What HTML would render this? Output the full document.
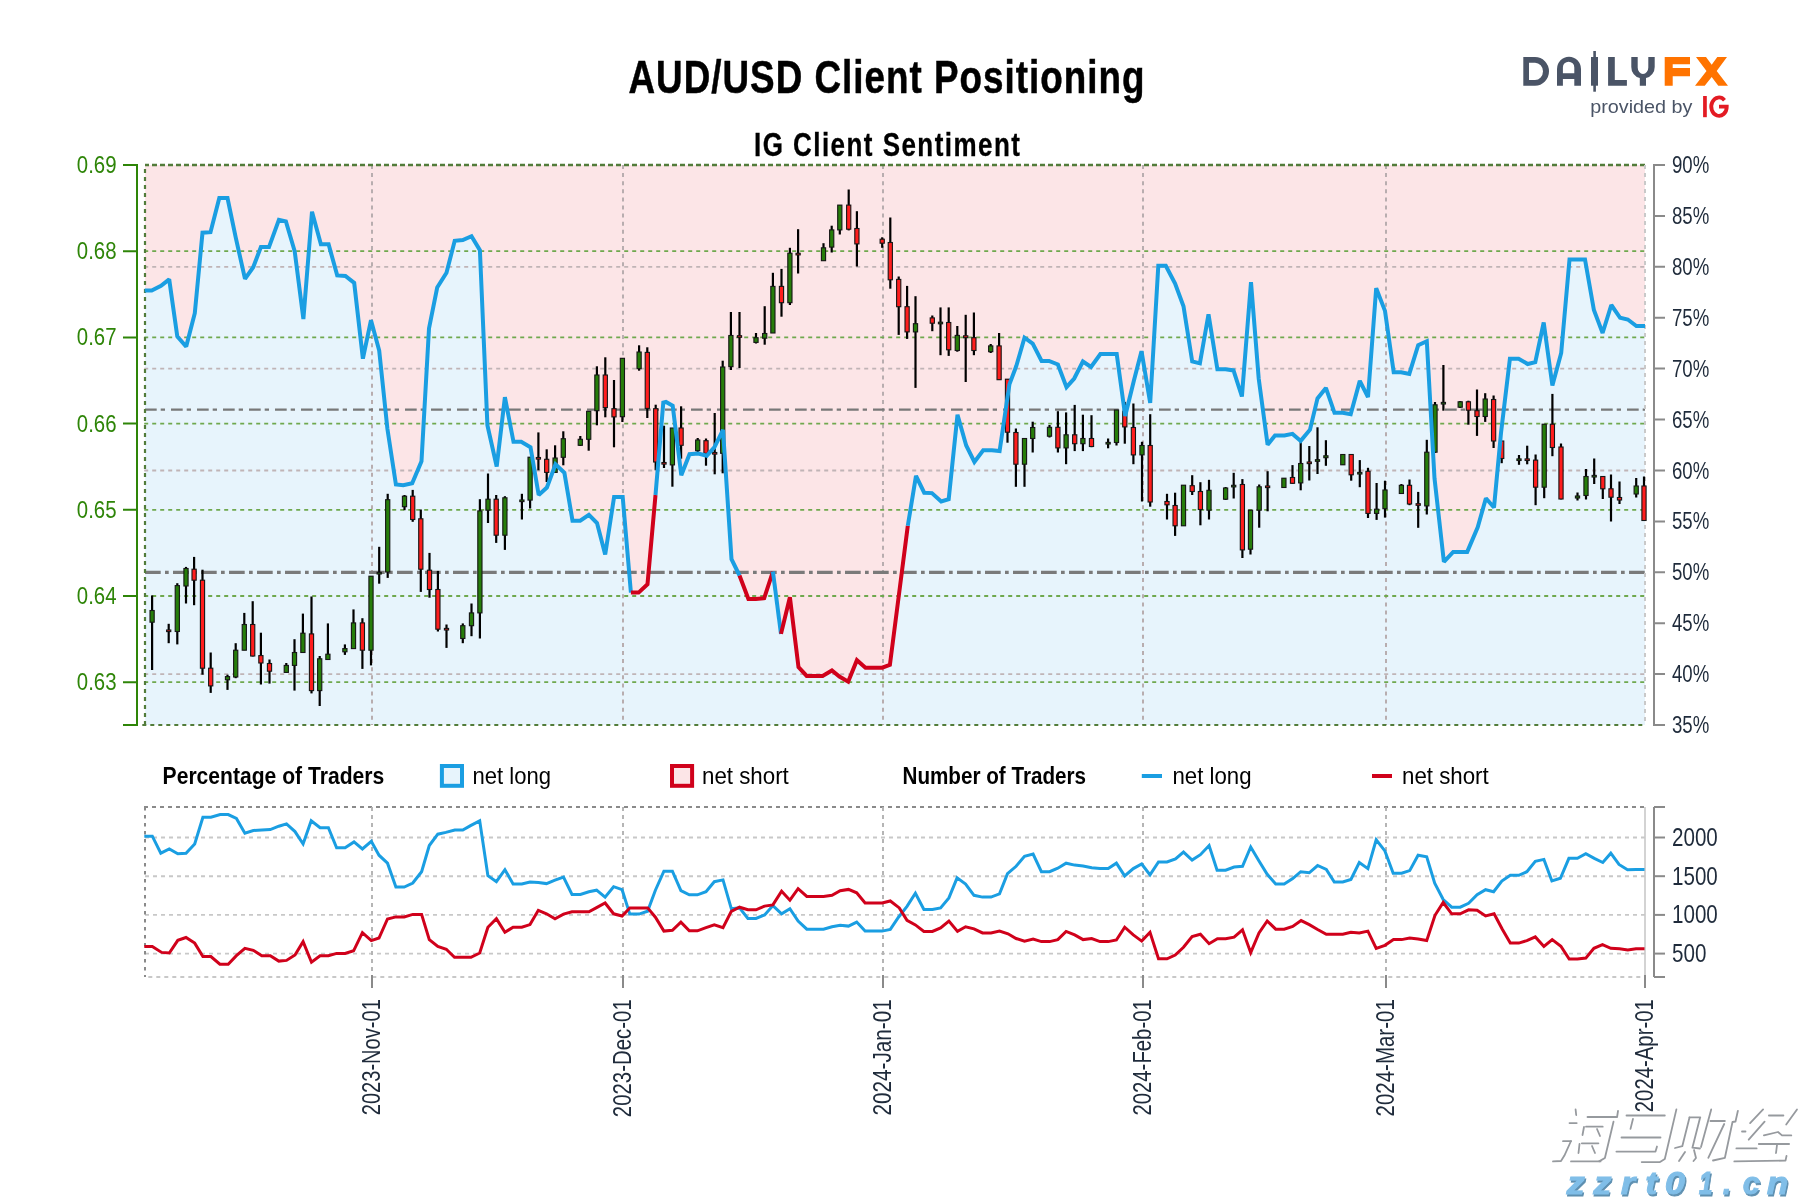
<!DOCTYPE html>
<html><head><meta charset="utf-8"><title>AUD/USD Client Positioning</title>
<style>html,body{margin:0;padding:0;background:#fff;} svg{display:block;will-change:transform;}</style></head>
<body>
<svg width="1800" height="1200" viewBox="0 0 1800 1200">
<rect x="0" y="0" width="1800" height="1200" fill="#ffffff"/>
<text transform="scale(0.8,1)" x="785.62" y="93.3" font-family='"Liberation Sans", sans-serif' font-weight="bold" font-size="46" fill="#000" stroke="#000" stroke-width="0.5" textLength="645.00" lengthAdjust="spacing">AUD/USD Client Positioning</text>
<text transform="scale(0.8,1)" x="942.50" y="155.8" font-family='"Liberation Sans", sans-serif' font-weight="bold" font-size="32.5" fill="#000" stroke="#000" stroke-width="0.3" textLength="332.50" lengthAdjust="spacing">IG Client Sentiment</text>
<rect x="145" y="165" width="1500" height="560" fill="#fce5e7"/>
<polygon points="145.0,725.0 145.0,290.6 151.7,290.6 161.0,285.9 169.2,279.4 177.3,336.5 186.2,346.6 194.8,313.2 202.5,232.7 210.5,232.2 219.3,198.1 227.5,198.1 235.7,237.3 245.0,278.9 253.2,267.2 260.9,247.1 269.0,247.1 278.9,219.8 285.9,221.5 294.7,251.3 303.4,319.0 312.0,211.7 320.9,244.3 328.6,244.3 337.2,275.4 345.4,275.9 354.2,282.9 362.9,358.7 371.0,320.2 379.2,350.5 387.4,428.7 395.9,484.5 403.3,485.2 412.2,483.3 421.5,461.2 429.0,328.4 437.2,287.5 446.5,272.8 454.7,240.8 462.8,240.1 471.5,236.2 479.9,250.2 487.4,425.2 496.7,466.5 504.9,397.2 513.5,441.8 521.2,441.8 530.5,447.2 538.7,495.0 546.9,487.5 555.5,464.2 564.4,472.8 572.5,520.7 580.2,520.7 588.9,514.8 597.0,523.0 605.2,554.5 614.1,496.9 622.7,496.9 630.9,592.6 638.6,592.6 647.5,584.2 655.5,495.0 663.3,402.7 666.0,402.0 672.7,405.7 681.3,475.3 689.5,454.2 698.2,453.5 706.8,455.8 714.5,447.2 720.8,434.3 723.0,430.0 731.5,559.2 739.5,575.5 748.4,598.9 755.8,598.9 764.2,598.2 772.9,571.6 781.0,633.9 789.9,597.2 798.5,667.2 806.7,675.9 814.9,675.9 822.6,675.9 831.9,670.5 839.4,676.6 848.2,681.7 856.9,660.2 865.5,667.7 882.2,667.7 889.9,664.9 907.8,525.8 916.0,475.9 924.2,492.7 931.9,493.1 941.2,501.5 948.7,499.2 957.5,414.7 966.2,445.5 974.4,461.9 983.2,450.2 991.9,450.2 999.6,451.1 1009.4,384.4 1016.4,365.7 1024.5,337.7 1032.7,343.5 1041.6,361.0 1049.0,361.0 1057.9,364.5 1066.5,387.2 1074.2,378.5 1082.9,361.5 1091.0,366.9 1100.4,354.0 1116.7,354.0 1125.2,415.9 1133.8,380.9 1141.5,351.2 1150.2,403.0 1158.3,265.8 1165.8,265.8 1175.1,283.6 1183.5,306.2 1192.2,361.5 1199.9,363.4 1208.5,314.4 1217.4,369.2 1225.6,369.2 1233.5,370.4 1241.9,396.5 1251.0,282.2 1258.7,378.5 1267.6,444.8 1275.0,435.5 1284.4,435.5 1292.5,433.9 1300.7,440.9 1310.0,429.7 1317.5,398.4 1325.9,387.9 1334.5,412.8 1342.7,412.8 1350.7,414.2 1359.8,380.9 1368.0,397.2 1376.2,288.2 1385.0,310.9 1393.7,372.2 1401.1,372.2 1409.3,373.9 1418.2,345.2 1426.8,341.2 1434.5,478.3 1443.9,561.9 1453.2,551.9 1467.2,551.9 1477.7,527.4 1485.9,498.2 1494.0,507.5 1501.0,433.0 1509.9,358.7 1518.6,358.7 1527.7,364.0 1535.3,362.2 1543.7,322.5 1552.4,385.5 1561.2,352.9 1569.5,259.5 1585.0,259.5 1593.9,310.0 1602.6,333.0 1611.3,305.0 1620.1,317.8 1627.8,319.5 1636.4,326.0 1645.0,326.0 1645.0,725.0" fill="#e7f4fc"/>
<line x1="144.2" y1="266.8" x2="1645" y2="266.8" stroke="#c0b4b6" stroke-width="1.8" stroke-dasharray="4,4"/>
<line x1="144.2" y1="368.6" x2="1645" y2="368.6" stroke="#c0b4b6" stroke-width="1.8" stroke-dasharray="4,4"/>
<line x1="144.2" y1="470.5" x2="1645" y2="470.5" stroke="#c0b4b6" stroke-width="1.8" stroke-dasharray="4,4"/>
<line x1="144.2" y1="674.1" x2="1645" y2="674.1" stroke="#c0b4b6" stroke-width="1.8" stroke-dasharray="4,4"/>
<line x1="372" y1="165" x2="372" y2="725" stroke="#b8adaf" stroke-width="2" stroke-dasharray="4,4.1"/>
<line x1="623" y1="165" x2="623" y2="725" stroke="#b8adaf" stroke-width="2" stroke-dasharray="4,4.1"/>
<line x1="883" y1="165" x2="883" y2="725" stroke="#b8adaf" stroke-width="2" stroke-dasharray="4,4.1"/>
<line x1="1143" y1="165" x2="1143" y2="725" stroke="#b8adaf" stroke-width="2" stroke-dasharray="4,4.1"/>
<line x1="1386" y1="165" x2="1386" y2="725" stroke="#b8adaf" stroke-width="2" stroke-dasharray="4,4.1"/>
<line x1="144.2" y1="251.2" x2="1645" y2="251.2" stroke="#6fa84e" stroke-width="1.8" stroke-dasharray="4,4"/>
<line x1="144.2" y1="337.4" x2="1645" y2="337.4" stroke="#6fa84e" stroke-width="1.8" stroke-dasharray="4,4"/>
<line x1="144.2" y1="423.6" x2="1645" y2="423.6" stroke="#6fa84e" stroke-width="1.8" stroke-dasharray="4,4"/>
<line x1="144.2" y1="509.8" x2="1645" y2="509.8" stroke="#6fa84e" stroke-width="1.8" stroke-dasharray="4,4"/>
<line x1="144.2" y1="596.0" x2="1645" y2="596.0" stroke="#6fa84e" stroke-width="1.8" stroke-dasharray="4,4"/>
<line x1="144.2" y1="682.2" x2="1645" y2="682.2" stroke="#6fa84e" stroke-width="1.8" stroke-dasharray="4,4"/>
<line x1="142.3" y1="725" x2="1645" y2="725" stroke="#527c3a" stroke-width="2.2" stroke-dasharray="4,4"/>
<line x1="145" y1="409.7" x2="1645" y2="409.7" stroke="#787878" stroke-width="2.2" stroke-dasharray="11.7,4,4.3,6"/>
<line x1="145" y1="572.3" x2="1645" y2="572.3" stroke="#7a7a7a" stroke-width="3.3" stroke-dasharray="15.7,4.3,3.7,4.3"/>
<line x1="145" y1="165" x2="1645" y2="165" stroke="#527c3a" stroke-width="2.3" stroke-dasharray="5,3" stroke-dashoffset="1"/>
<line x1="145" y1="725" x2="145" y2="165" stroke="#527c3a" stroke-width="2.2" stroke-dasharray="4,4"/>
<line x1="1645" y1="165" x2="1645" y2="725" stroke="#c9c9c9" stroke-width="2" stroke-dasharray="4,4"/>
<line x1="152.1" y1="595.4" x2="152.1" y2="670.0" stroke="#000" stroke-width="2.2"/>
<rect x="150.00" y="610.5" width="4.2" height="11.7" fill="#267d0a" stroke="#161616" stroke-width="1.1"/>
<line x1="168.7" y1="623.8" x2="168.7" y2="643.2" stroke="#000" stroke-width="2.2"/>
<rect x="166.60" y="630.0" width="4.2" height="1.6" fill="#ff1d1d" stroke="#161616" stroke-width="1.1"/>
<line x1="177.3" y1="583.2" x2="177.3" y2="644.4" stroke="#000" stroke-width="2.2"/>
<rect x="175.20" y="585.6" width="4.2" height="45.9" fill="#267d0a" stroke="#161616" stroke-width="1.1"/>
<line x1="186.0" y1="566.9" x2="186.0" y2="603.5" stroke="#000" stroke-width="2.2"/>
<rect x="183.90" y="568.5" width="4.2" height="17.5" fill="#267d0a" stroke="#161616" stroke-width="1.1"/>
<line x1="194.1" y1="556.9" x2="194.1" y2="605.2" stroke="#000" stroke-width="2.2"/>
<rect x="192.00" y="569.2" width="4.2" height="11.0" fill="#ff1d1d" stroke="#161616" stroke-width="1.1"/>
<line x1="202.5" y1="569.7" x2="202.5" y2="674.7" stroke="#000" stroke-width="2.2"/>
<rect x="200.40" y="580.2" width="4.2" height="88.0" fill="#ff1d1d" stroke="#161616" stroke-width="1.1"/>
<line x1="210.7" y1="652.5" x2="210.7" y2="692.9" stroke="#000" stroke-width="2.2"/>
<rect x="208.60" y="668.2" width="4.2" height="17.7" fill="#ff1d1d" stroke="#161616" stroke-width="1.1"/>
<line x1="227.5" y1="674.7" x2="227.5" y2="689.9" stroke="#000" stroke-width="2.2"/>
<rect x="225.40" y="676.6" width="4.2" height="3.2" fill="#267d0a" stroke="#161616" stroke-width="1.1"/>
<line x1="235.7" y1="643.2" x2="235.7" y2="678.2" stroke="#000" stroke-width="2.2"/>
<rect x="233.60" y="650.2" width="4.2" height="26.8" fill="#267d0a" stroke="#161616" stroke-width="1.1"/>
<line x1="244.3" y1="612.9" x2="244.3" y2="650.2" stroke="#000" stroke-width="2.2"/>
<rect x="242.20" y="624.5" width="4.2" height="25.7" fill="#267d0a" stroke="#161616" stroke-width="1.1"/>
<line x1="252.7" y1="601.2" x2="252.7" y2="656.5" stroke="#000" stroke-width="2.2"/>
<rect x="250.60" y="624.5" width="4.2" height="31.5" fill="#ff1d1d" stroke="#161616" stroke-width="1.1"/>
<line x1="260.9" y1="632.7" x2="260.9" y2="684.5" stroke="#000" stroke-width="2.2"/>
<rect x="258.80" y="655.6" width="4.2" height="7.4" fill="#ff1d1d" stroke="#161616" stroke-width="1.1"/>
<line x1="269.5" y1="659.5" x2="269.5" y2="683.6" stroke="#000" stroke-width="2.2"/>
<rect x="267.40" y="663.5" width="4.2" height="7.7" fill="#ff1d1d" stroke="#161616" stroke-width="1.1"/>
<line x1="286.3" y1="663.0" x2="286.3" y2="673.0" stroke="#000" stroke-width="2.2"/>
<rect x="284.20" y="665.4" width="4.2" height="7.0" fill="#267d0a" stroke="#161616" stroke-width="1.1"/>
<line x1="294.5" y1="639.2" x2="294.5" y2="690.6" stroke="#000" stroke-width="2.2"/>
<rect x="292.40" y="652.5" width="4.2" height="12.9" fill="#267d0a" stroke="#161616" stroke-width="1.1"/>
<line x1="302.9" y1="613.6" x2="302.9" y2="652.5" stroke="#000" stroke-width="2.2"/>
<rect x="300.80" y="633.2" width="4.2" height="19.3" fill="#267d0a" stroke="#161616" stroke-width="1.1"/>
<line x1="311.5" y1="596.5" x2="311.5" y2="693.4" stroke="#000" stroke-width="2.2"/>
<rect x="309.40" y="633.9" width="4.2" height="56.7" fill="#ff1d1d" stroke="#161616" stroke-width="1.1"/>
<line x1="319.7" y1="656.0" x2="319.7" y2="706.0" stroke="#000" stroke-width="2.2"/>
<rect x="317.60" y="658.8" width="4.2" height="31.8" fill="#267d0a" stroke="#161616" stroke-width="1.1"/>
<line x1="327.9" y1="623.4" x2="327.9" y2="659.5" stroke="#000" stroke-width="2.2"/>
<rect x="325.80" y="654.2" width="4.2" height="5.3" fill="#267d0a" stroke="#161616" stroke-width="1.1"/>
<line x1="344.9" y1="644.4" x2="344.9" y2="654.9" stroke="#000" stroke-width="2.2"/>
<rect x="342.80" y="648.6" width="4.2" height="3.2" fill="#267d0a" stroke="#161616" stroke-width="1.1"/>
<line x1="353.5" y1="609.4" x2="353.5" y2="648.6" stroke="#000" stroke-width="2.2"/>
<rect x="351.40" y="622.9" width="4.2" height="25.7" fill="#267d0a" stroke="#161616" stroke-width="1.1"/>
<line x1="362.4" y1="618.2" x2="362.4" y2="668.9" stroke="#000" stroke-width="2.2"/>
<rect x="360.30" y="622.9" width="4.2" height="27.3" fill="#ff1d1d" stroke="#161616" stroke-width="1.1"/>
<line x1="371.0" y1="576.2" x2="371.0" y2="665.4" stroke="#000" stroke-width="2.2"/>
<rect x="368.90" y="576.2" width="4.2" height="74.0" fill="#267d0a" stroke="#161616" stroke-width="1.1"/>
<line x1="379.2" y1="546.8" x2="379.2" y2="583.7" stroke="#000" stroke-width="2.2"/>
<rect x="377.10" y="572.4" width="4.2" height="1.6" fill="#267d0a" stroke="#161616" stroke-width="1.1"/>
<line x1="387.7" y1="493.8" x2="387.7" y2="577.9" stroke="#000" stroke-width="2.2"/>
<rect x="385.60" y="499.7" width="4.2" height="72.3" fill="#267d0a" stroke="#161616" stroke-width="1.1"/>
<line x1="404.5" y1="495.0" x2="404.5" y2="510.2" stroke="#000" stroke-width="2.2"/>
<rect x="402.40" y="496.2" width="4.2" height="10.5" fill="#267d0a" stroke="#161616" stroke-width="1.1"/>
<line x1="412.7" y1="489.9" x2="412.7" y2="521.8" stroke="#000" stroke-width="2.2"/>
<rect x="410.60" y="496.2" width="4.2" height="23.3" fill="#ff1d1d" stroke="#161616" stroke-width="1.1"/>
<line x1="420.8" y1="509.5" x2="420.8" y2="591.9" stroke="#000" stroke-width="2.2"/>
<rect x="418.70" y="518.8" width="4.2" height="50.4" fill="#ff1d1d" stroke="#161616" stroke-width="1.1"/>
<line x1="429.5" y1="552.9" x2="429.5" y2="597.7" stroke="#000" stroke-width="2.2"/>
<rect x="427.40" y="570.2" width="4.2" height="19.3" fill="#ff1d1d" stroke="#161616" stroke-width="1.1"/>
<line x1="437.9" y1="570.9" x2="437.9" y2="631.5" stroke="#000" stroke-width="2.2"/>
<rect x="435.80" y="589.5" width="4.2" height="39.7" fill="#ff1d1d" stroke="#161616" stroke-width="1.1"/>
<line x1="446.5" y1="624.5" x2="446.5" y2="647.9" stroke="#000" stroke-width="2.2"/>
<rect x="444.40" y="628.4" width="4.2" height="1.6" fill="#ff1d1d" stroke="#161616" stroke-width="1.1"/>
<line x1="462.8" y1="623.4" x2="462.8" y2="643.2" stroke="#000" stroke-width="2.2"/>
<rect x="460.70" y="625.7" width="4.2" height="12.8" fill="#267d0a" stroke="#161616" stroke-width="1.1"/>
<line x1="471.5" y1="603.5" x2="471.5" y2="636.2" stroke="#000" stroke-width="2.2"/>
<rect x="469.40" y="612.9" width="4.2" height="12.8" fill="#267d0a" stroke="#161616" stroke-width="1.1"/>
<line x1="479.9" y1="499.2" x2="479.9" y2="638.5" stroke="#000" stroke-width="2.2"/>
<rect x="477.80" y="510.9" width="4.2" height="102.0" fill="#267d0a" stroke="#161616" stroke-width="1.1"/>
<line x1="488.0" y1="473.5" x2="488.0" y2="523.0" stroke="#000" stroke-width="2.2"/>
<rect x="485.90" y="499.2" width="4.2" height="11.0" fill="#267d0a" stroke="#161616" stroke-width="1.1"/>
<line x1="496.2" y1="495.0" x2="496.2" y2="542.9" stroke="#000" stroke-width="2.2"/>
<rect x="494.10" y="499.2" width="4.2" height="36.0" fill="#ff1d1d" stroke="#161616" stroke-width="1.1"/>
<line x1="504.9" y1="496.2" x2="504.9" y2="549.9" stroke="#000" stroke-width="2.2"/>
<rect x="502.80" y="497.8" width="4.2" height="37.4" fill="#267d0a" stroke="#161616" stroke-width="1.1"/>
<line x1="521.9" y1="493.8" x2="521.9" y2="519.5" stroke="#000" stroke-width="2.2"/>
<rect x="519.80" y="500.0" width="4.2" height="1.6" fill="#267d0a" stroke="#161616" stroke-width="1.1"/>
<line x1="530.1" y1="457.0" x2="530.1" y2="508.5" stroke="#000" stroke-width="2.2"/>
<rect x="528.00" y="457.2" width="4.2" height="42.9" fill="#267d0a" stroke="#161616" stroke-width="1.1"/>
<line x1="538.4" y1="432.4" x2="538.4" y2="470.3" stroke="#000" stroke-width="2.2"/>
<rect x="536.30" y="457.5" width="4.2" height="1.6" fill="#ff1d1d" stroke="#161616" stroke-width="1.1"/>
<line x1="546.7" y1="449.3" x2="546.7" y2="482.0" stroke="#000" stroke-width="2.2"/>
<rect x="544.60" y="459.3" width="4.2" height="13.1" fill="#ff1d1d" stroke="#161616" stroke-width="1.1"/>
<line x1="555.1" y1="445.3" x2="555.1" y2="472.4" stroke="#000" stroke-width="2.2"/>
<rect x="553.00" y="458.0" width="4.2" height="14.4" fill="#267d0a" stroke="#161616" stroke-width="1.1"/>
<line x1="563.3" y1="431.3" x2="563.3" y2="465.3" stroke="#000" stroke-width="2.2"/>
<rect x="561.20" y="438.7" width="4.2" height="18.6" fill="#267d0a" stroke="#161616" stroke-width="1.1"/>
<line x1="580.3" y1="436.0" x2="580.3" y2="446.0" stroke="#000" stroke-width="2.2"/>
<rect x="578.20" y="439.3" width="4.2" height="6.0" fill="#267d0a" stroke="#161616" stroke-width="1.1"/>
<line x1="588.7" y1="411.0" x2="588.7" y2="450.7" stroke="#000" stroke-width="2.2"/>
<rect x="586.60" y="411.3" width="4.2" height="28.0" fill="#267d0a" stroke="#161616" stroke-width="1.1"/>
<line x1="596.9" y1="366.3" x2="596.9" y2="425.3" stroke="#000" stroke-width="2.2"/>
<rect x="594.80" y="375.0" width="4.2" height="35.7" fill="#267d0a" stroke="#161616" stroke-width="1.1"/>
<line x1="605.3" y1="357.3" x2="605.3" y2="417.3" stroke="#000" stroke-width="2.2"/>
<rect x="603.20" y="375.0" width="4.2" height="32.6" fill="#ff1d1d" stroke="#161616" stroke-width="1.1"/>
<line x1="614.0" y1="380.0" x2="614.0" y2="447.3" stroke="#000" stroke-width="2.2"/>
<rect x="611.90" y="408.7" width="4.2" height="8.2" fill="#ff1d1d" stroke="#161616" stroke-width="1.1"/>
<line x1="622.4" y1="358.0" x2="622.4" y2="422.0" stroke="#000" stroke-width="2.2"/>
<rect x="620.30" y="358.3" width="4.2" height="58.4" fill="#267d0a" stroke="#161616" stroke-width="1.1"/>
<line x1="639.1" y1="345.3" x2="639.1" y2="370.7" stroke="#000" stroke-width="2.2"/>
<rect x="637.00" y="352.0" width="4.2" height="16.7" fill="#267d0a" stroke="#161616" stroke-width="1.1"/>
<line x1="647.3" y1="347.3" x2="647.3" y2="418.0" stroke="#000" stroke-width="2.2"/>
<rect x="645.20" y="352.4" width="4.2" height="56.0" fill="#ff1d1d" stroke="#161616" stroke-width="1.1"/>
<line x1="655.7" y1="404.7" x2="655.7" y2="470.3" stroke="#000" stroke-width="2.2"/>
<rect x="653.60" y="408.7" width="4.2" height="53.3" fill="#ff1d1d" stroke="#161616" stroke-width="1.1"/>
<line x1="664.0" y1="425.7" x2="664.0" y2="468.0" stroke="#000" stroke-width="2.2"/>
<rect x="661.90" y="462.5" width="4.2" height="1.6" fill="#ff1d1d" stroke="#161616" stroke-width="1.1"/>
<line x1="672.4" y1="428.0" x2="672.4" y2="486.7" stroke="#000" stroke-width="2.2"/>
<rect x="670.30" y="428.0" width="4.2" height="36.9" fill="#267d0a" stroke="#161616" stroke-width="1.1"/>
<line x1="681.1" y1="406.3" x2="681.1" y2="458.7" stroke="#000" stroke-width="2.2"/>
<rect x="679.00" y="428.0" width="4.2" height="17.3" fill="#ff1d1d" stroke="#161616" stroke-width="1.1"/>
<line x1="697.7" y1="438.0" x2="697.7" y2="452.0" stroke="#000" stroke-width="2.2"/>
<rect x="695.60" y="440.0" width="4.2" height="10.7" fill="#267d0a" stroke="#161616" stroke-width="1.1"/>
<line x1="706.0" y1="438.5" x2="706.0" y2="465.7" stroke="#000" stroke-width="2.2"/>
<rect x="703.90" y="440.7" width="4.2" height="12.6" fill="#ff1d1d" stroke="#161616" stroke-width="1.1"/>
<line x1="714.7" y1="413.0" x2="714.7" y2="474.3" stroke="#000" stroke-width="2.2"/>
<rect x="712.60" y="452.5" width="4.2" height="1.6" fill="#ff1d1d" stroke="#161616" stroke-width="1.1"/>
<line x1="722.7" y1="360.7" x2="722.7" y2="473.3" stroke="#000" stroke-width="2.2"/>
<rect x="720.60" y="367.0" width="4.2" height="86.3" fill="#267d0a" stroke="#161616" stroke-width="1.1"/>
<line x1="730.9" y1="312.0" x2="730.9" y2="370.0" stroke="#000" stroke-width="2.2"/>
<rect x="728.80" y="335.5" width="4.2" height="31.2" fill="#267d0a" stroke="#161616" stroke-width="1.1"/>
<line x1="739.5" y1="312.0" x2="739.5" y2="368.0" stroke="#000" stroke-width="2.2"/>
<rect x="737.40" y="335.7" width="4.2" height="1.6" fill="#ff1d1d" stroke="#161616" stroke-width="1.1"/>
<line x1="756.0" y1="333.0" x2="756.0" y2="343.5" stroke="#000" stroke-width="2.2"/>
<rect x="753.90" y="337.7" width="4.2" height="4.7" fill="#267d0a" stroke="#161616" stroke-width="1.1"/>
<line x1="764.7" y1="306.2" x2="764.7" y2="344.7" stroke="#000" stroke-width="2.2"/>
<rect x="762.60" y="333.5" width="4.2" height="4.7" fill="#267d0a" stroke="#161616" stroke-width="1.1"/>
<line x1="772.9" y1="272.8" x2="772.9" y2="333.0" stroke="#000" stroke-width="2.2"/>
<rect x="770.80" y="286.4" width="4.2" height="46.6" fill="#267d0a" stroke="#161616" stroke-width="1.1"/>
<line x1="781.5" y1="268.9" x2="781.5" y2="316.7" stroke="#000" stroke-width="2.2"/>
<rect x="779.40" y="286.4" width="4.2" height="16.3" fill="#ff1d1d" stroke="#161616" stroke-width="1.1"/>
<line x1="789.9" y1="247.8" x2="789.9" y2="305.0" stroke="#000" stroke-width="2.2"/>
<rect x="787.80" y="253.2" width="4.2" height="49.5" fill="#267d0a" stroke="#161616" stroke-width="1.1"/>
<line x1="798.1" y1="229.2" x2="798.1" y2="273.5" stroke="#000" stroke-width="2.2"/>
<rect x="796.00" y="253.3" width="4.2" height="1.6" fill="#ff1d1d" stroke="#161616" stroke-width="1.1"/>
<line x1="823.5" y1="243.2" x2="823.5" y2="260.7" stroke="#000" stroke-width="2.2"/>
<rect x="821.40" y="247.8" width="4.2" height="12.9" fill="#267d0a" stroke="#161616" stroke-width="1.1"/>
<line x1="831.7" y1="225.7" x2="831.7" y2="252.5" stroke="#000" stroke-width="2.2"/>
<rect x="829.60" y="229.9" width="4.2" height="17.2" fill="#267d0a" stroke="#161616" stroke-width="1.1"/>
<line x1="839.8" y1="205.1" x2="839.8" y2="234.5" stroke="#000" stroke-width="2.2"/>
<rect x="837.70" y="205.1" width="4.2" height="24.8" fill="#267d0a" stroke="#161616" stroke-width="1.1"/>
<line x1="848.7" y1="189.5" x2="848.7" y2="230.4" stroke="#000" stroke-width="2.2"/>
<rect x="846.60" y="205.1" width="4.2" height="24.1" fill="#ff1d1d" stroke="#161616" stroke-width="1.1"/>
<line x1="856.9" y1="211.2" x2="856.9" y2="266.5" stroke="#000" stroke-width="2.2"/>
<rect x="854.80" y="228.5" width="4.2" height="15.4" fill="#ff1d1d" stroke="#161616" stroke-width="1.1"/>
<line x1="882.2" y1="237.3" x2="882.2" y2="247.8" stroke="#000" stroke-width="2.2"/>
<rect x="880.10" y="239.2" width="4.2" height="4.0" fill="#ff1d1d" stroke="#161616" stroke-width="1.1"/>
<line x1="890.3" y1="217.5" x2="890.3" y2="288.7" stroke="#000" stroke-width="2.2"/>
<rect x="888.20" y="242.5" width="4.2" height="37.3" fill="#ff1d1d" stroke="#161616" stroke-width="1.1"/>
<line x1="898.7" y1="276.5" x2="898.7" y2="334.9" stroke="#000" stroke-width="2.2"/>
<rect x="896.60" y="279.4" width="4.2" height="27.3" fill="#ff1d1d" stroke="#161616" stroke-width="1.1"/>
<line x1="907.1" y1="285.9" x2="907.1" y2="338.9" stroke="#000" stroke-width="2.2"/>
<rect x="905.00" y="306.7" width="4.2" height="25.2" fill="#ff1d1d" stroke="#161616" stroke-width="1.1"/>
<line x1="915.5" y1="296.2" x2="915.5" y2="387.9" stroke="#000" stroke-width="2.2"/>
<rect x="913.40" y="323.7" width="4.2" height="8.2" fill="#267d0a" stroke="#161616" stroke-width="1.1"/>
<line x1="932.3" y1="315.5" x2="932.3" y2="331.2" stroke="#000" stroke-width="2.2"/>
<rect x="930.20" y="317.9" width="4.2" height="5.3" fill="#ff1d1d" stroke="#161616" stroke-width="1.1"/>
<line x1="940.5" y1="307.4" x2="940.5" y2="355.2" stroke="#000" stroke-width="2.2"/>
<rect x="938.40" y="322.2" width="4.2" height="1.6" fill="#267d0a" stroke="#161616" stroke-width="1.1"/>
<line x1="948.7" y1="307.4" x2="948.7" y2="355.9" stroke="#000" stroke-width="2.2"/>
<rect x="946.60" y="322.5" width="4.2" height="27.3" fill="#ff1d1d" stroke="#161616" stroke-width="1.1"/>
<line x1="957.3" y1="326.0" x2="957.3" y2="351.7" stroke="#000" stroke-width="2.2"/>
<rect x="955.20" y="335.4" width="4.2" height="15.1" fill="#267d0a" stroke="#161616" stroke-width="1.1"/>
<line x1="965.7" y1="314.8" x2="965.7" y2="382.0" stroke="#000" stroke-width="2.2"/>
<rect x="963.60" y="335.8" width="4.2" height="1.9" fill="#ff1d1d" stroke="#161616" stroke-width="1.1"/>
<line x1="973.9" y1="312.5" x2="973.9" y2="355.2" stroke="#000" stroke-width="2.2"/>
<rect x="971.80" y="337.7" width="4.2" height="12.8" fill="#ff1d1d" stroke="#161616" stroke-width="1.1"/>
<line x1="990.7" y1="344.0" x2="990.7" y2="353.0" stroke="#000" stroke-width="2.2"/>
<rect x="988.60" y="345.9" width="4.2" height="5.8" fill="#267d0a" stroke="#161616" stroke-width="1.1"/>
<line x1="999.1" y1="333.0" x2="999.1" y2="379.7" stroke="#000" stroke-width="2.2"/>
<rect x="997.00" y="345.9" width="4.2" height="33.8" fill="#ff1d1d" stroke="#161616" stroke-width="1.1"/>
<line x1="1007.5" y1="379.0" x2="1007.5" y2="442.7" stroke="#000" stroke-width="2.2"/>
<rect x="1005.40" y="379.2" width="4.2" height="53.0" fill="#ff1d1d" stroke="#161616" stroke-width="1.1"/>
<line x1="1015.9" y1="428.5" x2="1015.9" y2="486.8" stroke="#000" stroke-width="2.2"/>
<rect x="1013.80" y="432.5" width="4.2" height="31.7" fill="#ff1d1d" stroke="#161616" stroke-width="1.1"/>
<line x1="1024.5" y1="438.0" x2="1024.5" y2="486.8" stroke="#000" stroke-width="2.2"/>
<rect x="1022.40" y="438.5" width="4.2" height="25.7" fill="#267d0a" stroke="#161616" stroke-width="1.1"/>
<line x1="1032.7" y1="421.7" x2="1032.7" y2="452.5" stroke="#000" stroke-width="2.2"/>
<rect x="1030.60" y="427.5" width="4.2" height="11.0" fill="#267d0a" stroke="#161616" stroke-width="1.1"/>
<line x1="1049.5" y1="425.0" x2="1049.5" y2="437.5" stroke="#000" stroke-width="2.2"/>
<rect x="1047.40" y="427.3" width="4.2" height="8.9" fill="#267d0a" stroke="#161616" stroke-width="1.1"/>
<line x1="1057.9" y1="411.2" x2="1057.9" y2="452.5" stroke="#000" stroke-width="2.2"/>
<rect x="1055.80" y="427.3" width="4.2" height="20.6" fill="#ff1d1d" stroke="#161616" stroke-width="1.1"/>
<line x1="1066.1" y1="412.4" x2="1066.1" y2="464.2" stroke="#000" stroke-width="2.2"/>
<rect x="1064.00" y="434.8" width="4.2" height="13.1" fill="#267d0a" stroke="#161616" stroke-width="1.1"/>
<line x1="1074.7" y1="404.9" x2="1074.7" y2="451.1" stroke="#000" stroke-width="2.2"/>
<rect x="1072.60" y="434.8" width="4.2" height="8.9" fill="#ff1d1d" stroke="#161616" stroke-width="1.1"/>
<line x1="1082.9" y1="414.7" x2="1082.9" y2="451.1" stroke="#000" stroke-width="2.2"/>
<rect x="1080.80" y="438.5" width="4.2" height="5.2" fill="#267d0a" stroke="#161616" stroke-width="1.1"/>
<line x1="1091.5" y1="415.2" x2="1091.5" y2="447.2" stroke="#000" stroke-width="2.2"/>
<rect x="1089.40" y="438.5" width="4.2" height="8.0" fill="#ff1d1d" stroke="#161616" stroke-width="1.1"/>
<line x1="1108.1" y1="438.5" x2="1108.1" y2="448.3" stroke="#000" stroke-width="2.2"/>
<rect x="1106.00" y="442.4" width="4.2" height="1.6" fill="#267d0a" stroke="#161616" stroke-width="1.1"/>
<line x1="1116.5" y1="410.0" x2="1116.5" y2="445.5" stroke="#000" stroke-width="2.2"/>
<rect x="1114.40" y="410.0" width="4.2" height="32.5" fill="#267d0a" stroke="#161616" stroke-width="1.1"/>
<line x1="1124.8" y1="401.9" x2="1124.8" y2="443.7" stroke="#000" stroke-width="2.2"/>
<rect x="1122.70" y="411.2" width="4.2" height="15.7" fill="#ff1d1d" stroke="#161616" stroke-width="1.1"/>
<line x1="1133.4" y1="403.5" x2="1133.4" y2="464.2" stroke="#000" stroke-width="2.2"/>
<rect x="1131.30" y="427.5" width="4.2" height="27.4" fill="#ff1d1d" stroke="#161616" stroke-width="1.1"/>
<line x1="1142.0" y1="441.8" x2="1142.0" y2="501.5" stroke="#000" stroke-width="2.2"/>
<rect x="1139.90" y="445.5" width="4.2" height="9.4" fill="#267d0a" stroke="#161616" stroke-width="1.1"/>
<line x1="1150.2" y1="414.2" x2="1150.2" y2="506.7" stroke="#000" stroke-width="2.2"/>
<rect x="1148.10" y="445.5" width="4.2" height="56.5" fill="#ff1d1d" stroke="#161616" stroke-width="1.1"/>
<line x1="1167.0" y1="493.8" x2="1167.0" y2="519.5" stroke="#000" stroke-width="2.2"/>
<rect x="1164.90" y="501.5" width="4.2" height="3.3" fill="#ff1d1d" stroke="#161616" stroke-width="1.1"/>
<line x1="1175.1" y1="492.7" x2="1175.1" y2="535.9" stroke="#000" stroke-width="2.2"/>
<rect x="1173.00" y="505.5" width="4.2" height="20.3" fill="#ff1d1d" stroke="#161616" stroke-width="1.1"/>
<line x1="1183.5" y1="485.0" x2="1183.5" y2="526.0" stroke="#000" stroke-width="2.2"/>
<rect x="1181.40" y="485.2" width="4.2" height="40.6" fill="#267d0a" stroke="#161616" stroke-width="1.1"/>
<line x1="1192.2" y1="475.2" x2="1192.2" y2="495.0" stroke="#000" stroke-width="2.2"/>
<rect x="1190.10" y="485.7" width="4.2" height="5.8" fill="#ff1d1d" stroke="#161616" stroke-width="1.1"/>
<line x1="1200.4" y1="482.2" x2="1200.4" y2="525.3" stroke="#000" stroke-width="2.2"/>
<rect x="1198.30" y="491.5" width="4.2" height="18.0" fill="#ff1d1d" stroke="#161616" stroke-width="1.1"/>
<line x1="1209.0" y1="479.8" x2="1209.0" y2="519.5" stroke="#000" stroke-width="2.2"/>
<rect x="1206.90" y="490.3" width="4.2" height="19.9" fill="#267d0a" stroke="#161616" stroke-width="1.1"/>
<line x1="1225.6" y1="487.0" x2="1225.6" y2="500.0" stroke="#000" stroke-width="2.2"/>
<rect x="1223.50" y="488.0" width="4.2" height="11.2" fill="#267d0a" stroke="#161616" stroke-width="1.1"/>
<line x1="1233.7" y1="472.8" x2="1233.7" y2="498.5" stroke="#000" stroke-width="2.2"/>
<rect x="1231.60" y="485.3" width="4.2" height="1.6" fill="#267d0a" stroke="#161616" stroke-width="1.1"/>
<line x1="1242.4" y1="479.1" x2="1242.4" y2="558.0" stroke="#000" stroke-width="2.2"/>
<rect x="1240.30" y="484.5" width="4.2" height="65.4" fill="#ff1d1d" stroke="#161616" stroke-width="1.1"/>
<line x1="1250.5" y1="510.0" x2="1250.5" y2="554.5" stroke="#000" stroke-width="2.2"/>
<rect x="1248.40" y="510.2" width="4.2" height="39.0" fill="#267d0a" stroke="#161616" stroke-width="1.1"/>
<line x1="1259.2" y1="484.5" x2="1259.2" y2="527.7" stroke="#000" stroke-width="2.2"/>
<rect x="1257.10" y="486.8" width="4.2" height="23.4" fill="#267d0a" stroke="#161616" stroke-width="1.1"/>
<line x1="1267.6" y1="471.2" x2="1267.6" y2="511.3" stroke="#000" stroke-width="2.2"/>
<rect x="1265.50" y="486.0" width="4.2" height="1.6" fill="#ff1d1d" stroke="#161616" stroke-width="1.1"/>
<line x1="1283.9" y1="478.0" x2="1283.9" y2="488.0" stroke="#000" stroke-width="2.2"/>
<rect x="1281.80" y="478.2" width="4.2" height="9.3" fill="#267d0a" stroke="#161616" stroke-width="1.1"/>
<line x1="1292.5" y1="465.1" x2="1292.5" y2="483.8" stroke="#000" stroke-width="2.2"/>
<rect x="1290.40" y="477.5" width="4.2" height="5.8" fill="#ff1d1d" stroke="#161616" stroke-width="1.1"/>
<line x1="1300.7" y1="441.3" x2="1300.7" y2="490.3" stroke="#000" stroke-width="2.2"/>
<rect x="1298.60" y="463.5" width="4.2" height="19.4" fill="#267d0a" stroke="#161616" stroke-width="1.1"/>
<line x1="1309.3" y1="446.0" x2="1309.3" y2="480.5" stroke="#000" stroke-width="2.2"/>
<rect x="1307.20" y="462.0" width="4.2" height="1.6" fill="#ff1d1d" stroke="#161616" stroke-width="1.1"/>
<line x1="1317.5" y1="427.3" x2="1317.5" y2="474.0" stroke="#000" stroke-width="2.2"/>
<rect x="1315.40" y="459.7" width="4.2" height="1.6" fill="#267d0a" stroke="#161616" stroke-width="1.1"/>
<line x1="1325.9" y1="440.2" x2="1325.9" y2="465.8" stroke="#000" stroke-width="2.2"/>
<rect x="1323.80" y="455.8" width="4.2" height="1.9" fill="#267d0a" stroke="#161616" stroke-width="1.1"/>
<line x1="1342.8" y1="454.0" x2="1342.8" y2="465.0" stroke="#000" stroke-width="2.2"/>
<rect x="1340.70" y="454.5" width="4.2" height="10.3" fill="#267d0a" stroke="#161616" stroke-width="1.1"/>
<line x1="1351.2" y1="454.0" x2="1351.2" y2="480.7" stroke="#000" stroke-width="2.2"/>
<rect x="1349.10" y="454.5" width="4.2" height="20.3" fill="#ff1d1d" stroke="#161616" stroke-width="1.1"/>
<line x1="1359.8" y1="460.1" x2="1359.8" y2="487.2" stroke="#000" stroke-width="2.2"/>
<rect x="1357.70" y="472.4" width="4.2" height="1.6" fill="#267d0a" stroke="#161616" stroke-width="1.1"/>
<line x1="1368.0" y1="467.8" x2="1368.0" y2="518.0" stroke="#000" stroke-width="2.2"/>
<rect x="1365.90" y="471.3" width="4.2" height="42.1" fill="#ff1d1d" stroke="#161616" stroke-width="1.1"/>
<line x1="1376.6" y1="483.0" x2="1376.6" y2="519.9" stroke="#000" stroke-width="2.2"/>
<rect x="1374.50" y="509.2" width="4.2" height="4.2" fill="#267d0a" stroke="#161616" stroke-width="1.1"/>
<line x1="1385.0" y1="480.7" x2="1385.0" y2="517.6" stroke="#000" stroke-width="2.2"/>
<rect x="1382.90" y="490.0" width="4.2" height="18.7" fill="#267d0a" stroke="#161616" stroke-width="1.1"/>
<line x1="1401.4" y1="484.0" x2="1401.4" y2="494.0" stroke="#000" stroke-width="2.2"/>
<rect x="1399.30" y="485.3" width="4.2" height="8.2" fill="#267d0a" stroke="#161616" stroke-width="1.1"/>
<line x1="1409.5" y1="479.5" x2="1409.5" y2="505.2" stroke="#000" stroke-width="2.2"/>
<rect x="1407.40" y="485.3" width="4.2" height="18.7" fill="#ff1d1d" stroke="#161616" stroke-width="1.1"/>
<line x1="1418.2" y1="491.9" x2="1418.2" y2="527.8" stroke="#000" stroke-width="2.2"/>
<rect x="1416.10" y="503.7" width="4.2" height="1.6" fill="#ff1d1d" stroke="#161616" stroke-width="1.1"/>
<line x1="1426.8" y1="439.8" x2="1426.8" y2="514.5" stroke="#000" stroke-width="2.2"/>
<rect x="1424.70" y="452.2" width="4.2" height="53.7" fill="#267d0a" stroke="#161616" stroke-width="1.1"/>
<line x1="1435.0" y1="402.0" x2="1435.0" y2="453.0" stroke="#000" stroke-width="2.2"/>
<rect x="1432.90" y="404.8" width="4.2" height="47.4" fill="#267d0a" stroke="#161616" stroke-width="1.1"/>
<line x1="1443.4" y1="365.0" x2="1443.4" y2="410.7" stroke="#000" stroke-width="2.2"/>
<rect x="1441.30" y="402.4" width="4.2" height="1.6" fill="#267d0a" stroke="#161616" stroke-width="1.1"/>
<line x1="1460.2" y1="401.0" x2="1460.2" y2="408.0" stroke="#000" stroke-width="2.2"/>
<rect x="1458.10" y="401.8" width="4.2" height="5.4" fill="#267d0a" stroke="#161616" stroke-width="1.1"/>
<line x1="1468.4" y1="400.7" x2="1468.4" y2="424.7" stroke="#000" stroke-width="2.2"/>
<rect x="1466.30" y="401.8" width="4.2" height="8.4" fill="#ff1d1d" stroke="#161616" stroke-width="1.1"/>
<line x1="1477.0" y1="389.5" x2="1477.0" y2="435.9" stroke="#000" stroke-width="2.2"/>
<rect x="1474.90" y="410.7" width="4.2" height="5.8" fill="#ff1d1d" stroke="#161616" stroke-width="1.1"/>
<line x1="1485.2" y1="393.2" x2="1485.2" y2="421.9" stroke="#000" stroke-width="2.2"/>
<rect x="1483.10" y="399.0" width="4.2" height="17.5" fill="#267d0a" stroke="#161616" stroke-width="1.1"/>
<line x1="1493.6" y1="395.5" x2="1493.6" y2="448.0" stroke="#000" stroke-width="2.2"/>
<rect x="1491.50" y="399.5" width="4.2" height="41.5" fill="#ff1d1d" stroke="#161616" stroke-width="1.1"/>
<line x1="1501.7" y1="441.0" x2="1501.7" y2="463.2" stroke="#000" stroke-width="2.2"/>
<rect x="1499.60" y="441.0" width="4.2" height="17.5" fill="#ff1d1d" stroke="#161616" stroke-width="1.1"/>
<line x1="1519.0" y1="455.0" x2="1519.0" y2="464.8" stroke="#000" stroke-width="2.2"/>
<rect x="1516.90" y="458.9" width="4.2" height="1.6" fill="#267d0a" stroke="#161616" stroke-width="1.1"/>
<line x1="1527.2" y1="445.7" x2="1527.2" y2="464.3" stroke="#000" stroke-width="2.2"/>
<rect x="1525.10" y="458.9" width="4.2" height="1.6" fill="#ff1d1d" stroke="#161616" stroke-width="1.1"/>
<line x1="1535.6" y1="454.5" x2="1535.6" y2="505.2" stroke="#000" stroke-width="2.2"/>
<rect x="1533.50" y="460.1" width="4.2" height="27.1" fill="#ff1d1d" stroke="#161616" stroke-width="1.1"/>
<line x1="1544.2" y1="424.0" x2="1544.2" y2="498.2" stroke="#000" stroke-width="2.2"/>
<rect x="1542.10" y="424.2" width="4.2" height="63.0" fill="#267d0a" stroke="#161616" stroke-width="1.1"/>
<line x1="1552.4" y1="393.9" x2="1552.4" y2="456.2" stroke="#000" stroke-width="2.2"/>
<rect x="1550.30" y="424.2" width="4.2" height="23.3" fill="#ff1d1d" stroke="#161616" stroke-width="1.1"/>
<line x1="1561.0" y1="443.5" x2="1561.0" y2="499.4" stroke="#000" stroke-width="2.2"/>
<rect x="1558.90" y="447.0" width="4.2" height="52.0" fill="#ff1d1d" stroke="#161616" stroke-width="1.1"/>
<line x1="1577.5" y1="492.5" x2="1577.5" y2="500.5" stroke="#000" stroke-width="2.2"/>
<rect x="1575.40" y="496.0" width="4.2" height="2.0" fill="#267d0a" stroke="#161616" stroke-width="1.1"/>
<line x1="1586.0" y1="469.0" x2="1586.0" y2="499.5" stroke="#000" stroke-width="2.2"/>
<rect x="1583.90" y="476.5" width="4.2" height="19.0" fill="#267d0a" stroke="#161616" stroke-width="1.1"/>
<line x1="1594.2" y1="458.5" x2="1594.2" y2="484.0" stroke="#000" stroke-width="2.2"/>
<rect x="1592.10" y="475.4" width="4.2" height="1.6" fill="#267d0a" stroke="#161616" stroke-width="1.1"/>
<line x1="1602.8" y1="476.0" x2="1602.8" y2="499.0" stroke="#000" stroke-width="2.2"/>
<rect x="1600.70" y="476.5" width="4.2" height="12.3" fill="#ff1d1d" stroke="#161616" stroke-width="1.1"/>
<line x1="1611.0" y1="474.5" x2="1611.0" y2="521.5" stroke="#000" stroke-width="2.2"/>
<rect x="1608.90" y="488.8" width="4.2" height="8.4" fill="#ff1d1d" stroke="#161616" stroke-width="1.1"/>
<line x1="1619.5" y1="481.5" x2="1619.5" y2="504.0" stroke="#000" stroke-width="2.2"/>
<rect x="1617.40" y="497.5" width="4.2" height="2.5" fill="#ff1d1d" stroke="#161616" stroke-width="1.1"/>
<line x1="1636.2" y1="478.0" x2="1636.2" y2="497.5" stroke="#000" stroke-width="2.2"/>
<rect x="1634.10" y="486.0" width="4.2" height="8.0" fill="#267d0a" stroke="#161616" stroke-width="1.1"/>
<line x1="1644.0" y1="476.5" x2="1644.0" y2="520.5" stroke="#000" stroke-width="2.2"/>
<rect x="1641.90" y="486.0" width="4.2" height="34.5" fill="#ff1d1d" stroke="#161616" stroke-width="1.1"/>
<polyline points="144.7,290.6 151.7,290.6 161.0,285.9 169.2,279.4 177.3,336.5 186.2,346.6 194.8,313.2 202.5,232.7 210.5,232.2 219.3,198.1 227.5,198.1 235.7,237.3 245.0,278.9 253.2,267.2 260.9,247.1 269.0,247.1 278.9,219.8 285.9,221.5 294.7,251.3 303.4,319.0 312.0,211.7 320.9,244.3 328.6,244.3 337.2,275.4 345.4,275.9 354.2,282.9 362.9,358.7 371.0,320.2 379.2,350.5 387.4,428.7 395.9,484.5 403.3,485.2 412.2,483.3 421.5,461.2 429.0,328.4 437.2,287.5 446.5,272.8 454.7,240.8 462.8,240.1 471.5,236.2 479.9,250.2 487.4,425.2 496.7,466.5 504.9,397.2 513.5,441.8 521.2,441.8 530.5,447.2 538.7,495.0 546.9,487.5 555.5,464.2 564.4,472.8 572.5,520.7 580.2,520.7 588.9,514.8 597.0,523.0 605.2,554.5 614.1,496.9 622.7,496.9 630.9,592.6" fill="none" stroke="#1a9ee2" stroke-width="4" stroke-linejoin="miter" stroke-miterlimit="2"/>
<polyline points="630.9,592.6 638.6,592.6 647.5,584.2 655.5,495.0" fill="none" stroke="#d0011b" stroke-width="4" stroke-linejoin="miter" stroke-miterlimit="2"/>
<polyline points="655.5,495.0 663.3,402.7 666.0,402.0 672.7,405.7 681.3,475.3 689.5,454.2 698.2,453.5 706.8,455.8 714.5,447.2 720.8,434.3 723.0,430.0 731.5,559.2 739.5,575.5" fill="none" stroke="#1a9ee2" stroke-width="4" stroke-linejoin="miter" stroke-miterlimit="2"/>
<polyline points="739.5,575.5 748.4,598.9 755.8,598.9 764.2,598.2 772.9,571.6" fill="none" stroke="#d0011b" stroke-width="4" stroke-linejoin="miter" stroke-miterlimit="2"/>
<polyline points="772.9,571.6 781.0,633.9" fill="none" stroke="#1a9ee2" stroke-width="4" stroke-linejoin="miter" stroke-miterlimit="2"/>
<polyline points="781.0,633.9 789.9,597.2 798.5,667.2 806.7,675.9 814.9,675.9 822.6,675.9 831.9,670.5 839.4,676.6 848.2,681.7 856.9,660.2 865.5,667.7 882.2,667.7 889.9,664.9 907.8,525.8" fill="none" stroke="#d0011b" stroke-width="4" stroke-linejoin="miter" stroke-miterlimit="2"/>
<polyline points="907.8,525.8 916.0,475.9 924.2,492.7 931.9,493.1 941.2,501.5 948.7,499.2 957.5,414.7 966.2,445.5 974.4,461.9 983.2,450.2 991.9,450.2 999.6,451.1 1009.4,384.4 1016.4,365.7 1024.5,337.7 1032.7,343.5 1041.6,361.0 1049.0,361.0 1057.9,364.5 1066.5,387.2 1074.2,378.5 1082.9,361.5 1091.0,366.9 1100.4,354.0 1116.7,354.0 1125.2,415.9 1133.8,380.9 1141.5,351.2 1150.2,403.0 1158.3,265.8 1165.8,265.8 1175.1,283.6 1183.5,306.2 1192.2,361.5 1199.9,363.4 1208.5,314.4 1217.4,369.2 1225.6,369.2 1233.5,370.4 1241.9,396.5 1251.0,282.2 1258.7,378.5 1267.6,444.8 1275.0,435.5 1284.4,435.5 1292.5,433.9 1300.7,440.9 1310.0,429.7 1317.5,398.4 1325.9,387.9 1334.5,412.8 1342.7,412.8 1350.7,414.2 1359.8,380.9 1368.0,397.2 1376.2,288.2 1385.0,310.9 1393.7,372.2 1401.1,372.2 1409.3,373.9 1418.2,345.2 1426.8,341.2 1434.5,478.3 1443.9,561.9 1453.2,551.9 1467.2,551.9 1477.7,527.4 1485.9,498.2 1494.0,507.5 1501.0,433.0 1509.9,358.7 1518.6,358.7 1527.7,364.0 1535.3,362.2 1543.7,322.5 1552.4,385.5 1561.2,352.9 1569.5,259.5 1585.0,259.5 1593.9,310.0 1602.6,333.0 1611.3,305.0 1620.1,317.8 1627.8,319.5 1636.4,326.0 1645.0,326.0" fill="none" stroke="#1a9ee2" stroke-width="4" stroke-linejoin="miter" stroke-miterlimit="2"/>
<path d="M137 165 V725 H124 M124 165.0 H137 M124 251.2 H137 M124 337.4 H137 M124 423.6 H137 M124 509.8 H137 M124 596.0 H137 M124 682.2 H137" fill="none" stroke="#2e8508" stroke-width="2" stroke-linejoin="miter" stroke-linecap="square"/>
<text x="76.8" y="173.0" font-family='"Liberation Sans", sans-serif' font-size="24" fill="#2e8508" textLength="39.7" lengthAdjust="spacingAndGlyphs">0.69</text>
<text x="76.8" y="259.2" font-family='"Liberation Sans", sans-serif' font-size="24" fill="#2e8508" textLength="39.7" lengthAdjust="spacingAndGlyphs">0.68</text>
<text x="76.8" y="345.4" font-family='"Liberation Sans", sans-serif' font-size="24" fill="#2e8508" textLength="39.7" lengthAdjust="spacingAndGlyphs">0.67</text>
<text x="76.8" y="431.6" font-family='"Liberation Sans", sans-serif' font-size="24" fill="#2e8508" textLength="39.7" lengthAdjust="spacingAndGlyphs">0.66</text>
<text x="76.8" y="517.8" font-family='"Liberation Sans", sans-serif' font-size="24" fill="#2e8508" textLength="39.7" lengthAdjust="spacingAndGlyphs">0.65</text>
<text x="76.8" y="604.0" font-family='"Liberation Sans", sans-serif' font-size="24" fill="#2e8508" textLength="39.7" lengthAdjust="spacingAndGlyphs">0.64</text>
<text x="76.8" y="690.2" font-family='"Liberation Sans", sans-serif' font-size="24" fill="#2e8508" textLength="39.7" lengthAdjust="spacingAndGlyphs">0.63</text>
<path d="M1665 165 H1654 V725 H1665 M1654 215.9 H1665 M1654 266.8 H1665 M1654 317.7 H1665 M1654 368.6 H1665 M1654 419.5 H1665 M1654 470.5 H1665 M1654 521.4 H1665 M1654 572.3 H1665 M1654 623.2 H1665 M1654 674.1 H1665" fill="none" stroke="#8a8a8a" stroke-width="2" stroke-linejoin="miter"/>
<text x="1672" y="173.0" font-family='"Liberation Sans", sans-serif' font-size="24" fill="#1f2b3b" textLength="37.3" lengthAdjust="spacingAndGlyphs">90%</text>
<text x="1672" y="223.9" font-family='"Liberation Sans", sans-serif' font-size="24" fill="#1f2b3b" textLength="37.3" lengthAdjust="spacingAndGlyphs">85%</text>
<text x="1672" y="274.8" font-family='"Liberation Sans", sans-serif' font-size="24" fill="#1f2b3b" textLength="37.3" lengthAdjust="spacingAndGlyphs">80%</text>
<text x="1672" y="325.7" font-family='"Liberation Sans", sans-serif' font-size="24" fill="#1f2b3b" textLength="37.3" lengthAdjust="spacingAndGlyphs">75%</text>
<text x="1672" y="376.6" font-family='"Liberation Sans", sans-serif' font-size="24" fill="#1f2b3b" textLength="37.3" lengthAdjust="spacingAndGlyphs">70%</text>
<text x="1672" y="427.5" font-family='"Liberation Sans", sans-serif' font-size="24" fill="#1f2b3b" textLength="37.3" lengthAdjust="spacingAndGlyphs">65%</text>
<text x="1672" y="478.5" font-family='"Liberation Sans", sans-serif' font-size="24" fill="#1f2b3b" textLength="37.3" lengthAdjust="spacingAndGlyphs">60%</text>
<text x="1672" y="529.4" font-family='"Liberation Sans", sans-serif' font-size="24" fill="#1f2b3b" textLength="37.3" lengthAdjust="spacingAndGlyphs">55%</text>
<text x="1672" y="580.3" font-family='"Liberation Sans", sans-serif' font-size="24" fill="#1f2b3b" textLength="37.3" lengthAdjust="spacingAndGlyphs">50%</text>
<text x="1672" y="631.2" font-family='"Liberation Sans", sans-serif' font-size="24" fill="#1f2b3b" textLength="37.3" lengthAdjust="spacingAndGlyphs">45%</text>
<text x="1672" y="682.1" font-family='"Liberation Sans", sans-serif' font-size="24" fill="#1f2b3b" textLength="37.3" lengthAdjust="spacingAndGlyphs">40%</text>
<text x="1672" y="733.0" font-family='"Liberation Sans", sans-serif' font-size="24" fill="#1f2b3b" textLength="37.3" lengthAdjust="spacingAndGlyphs">35%</text>
<text x="162.6" y="784" font-family='"Liberation Sans", sans-serif' font-weight="bold" font-size="23" fill="#000" textLength="221.6" lengthAdjust="spacingAndGlyphs">Percentage of Traders</text>
<rect x="441.9" y="766" width="20.1" height="19.8" fill="#e7f4fc" stroke="#1a9ee2" stroke-width="4"/>
<text x="472.5" y="784" font-family='"Liberation Sans", sans-serif' font-size="24" fill="#000" textLength="78.5" lengthAdjust="spacingAndGlyphs">net long</text>
<rect x="672" y="766" width="20.1" height="19.8" fill="#fce5e7" stroke="#d0011b" stroke-width="4"/>
<text x="702" y="784" font-family='"Liberation Sans", sans-serif' font-size="24" fill="#000" textLength="86.8" lengthAdjust="spacingAndGlyphs">net short</text>
<text x="902.5" y="784" font-family='"Liberation Sans", sans-serif' font-weight="bold" font-size="23" fill="#000" textLength="183.5" lengthAdjust="spacingAndGlyphs">Number of Traders</text>
<line x1="1141.8" y1="776" x2="1162" y2="776" stroke="#1a9ee2" stroke-width="4"/>
<text x="1172.5" y="784" font-family='"Liberation Sans", sans-serif' font-size="24" fill="#000" textLength="79" lengthAdjust="spacingAndGlyphs">net long</text>
<line x1="1372" y1="776" x2="1392" y2="776" stroke="#d0011b" stroke-width="4"/>
<text x="1402" y="784" font-family='"Liberation Sans", sans-serif' font-size="24" fill="#000" textLength="86.7" lengthAdjust="spacingAndGlyphs">net short</text>
<line x1="145" y1="837.5" x2="1645" y2="837.5" stroke="#c8c8c8" stroke-width="1.9" stroke-dasharray="4,4"/>
<line x1="145" y1="876.2" x2="1645" y2="876.2" stroke="#c8c8c8" stroke-width="1.9" stroke-dasharray="4,4"/>
<line x1="145" y1="914.9" x2="1645" y2="914.9" stroke="#c8c8c8" stroke-width="1.9" stroke-dasharray="4,4"/>
<line x1="145" y1="953.6" x2="1645" y2="953.6" stroke="#c8c8c8" stroke-width="1.9" stroke-dasharray="4,4"/>
<line x1="148.3" y1="977" x2="1645" y2="977" stroke="#c8c8c8" stroke-width="1.9" stroke-dasharray="4,4"/>
<line x1="144" y1="807" x2="1645" y2="807" stroke="#8a8a8a" stroke-width="1.9" stroke-dasharray="4,4"/>
<line x1="372" y1="807" x2="372" y2="977" stroke="#b2b2b2" stroke-width="1.9" stroke-dasharray="4,4"/>
<line x1="623" y1="807" x2="623" y2="977" stroke="#b2b2b2" stroke-width="1.9" stroke-dasharray="4,4"/>
<line x1="883" y1="807" x2="883" y2="977" stroke="#b2b2b2" stroke-width="1.9" stroke-dasharray="4,4"/>
<line x1="1143" y1="807" x2="1143" y2="977" stroke="#b2b2b2" stroke-width="1.9" stroke-dasharray="4,4"/>
<line x1="1386" y1="807" x2="1386" y2="977" stroke="#b2b2b2" stroke-width="1.9" stroke-dasharray="4,4"/>
<line x1="145" y1="977" x2="145" y2="807" stroke="#8a8a8a" stroke-width="2" stroke-dasharray="3.5,4.5" stroke-dashoffset="1.5"/>
<line x1="1645" y1="807" x2="1645" y2="977" stroke="#c8c8c8" stroke-width="1.6"/>
<polyline points="144.3,836.2 152.3,836.2 160.8,853.2 169.3,849.0 177.8,853.7 186.0,853.2 194.7,844.0 202.9,817.3 210.9,817.3 220.2,814.6 228.2,814.6 236.4,818.5 244.9,833.2 253.3,830.5 261.8,830.1 270.3,829.6 278.8,826.2 286.5,823.9 295.0,831.6 303.1,844.0 311.2,820.8 320.1,827.8 328.4,827.8 336.6,847.8 345.1,847.8 354.0,841.9 362.4,849.0 371.3,841.3 379.0,855.2 387.5,863.2 395.9,887.1 404.2,887.1 412.8,883.0 421.6,871.7 429.3,845.5 437.8,834.2 445.8,832.4 454.8,830.1 462.8,830.1 471.0,825.4 479.7,820.8 487.9,875.6 496.4,881.7 504.9,869.7 513.1,884.0 521.8,884.0 530.0,882.0 538.3,882.5 546.5,883.6 555.0,880.2 563.5,877.1 572.0,894.4 580.4,894.4 588.9,891.7 596.6,890.2 605.1,897.1 613.6,886.7 622.1,889.7 629.8,914.1 639.0,914.1 647.6,911.2 655.4,890.2 663.9,871.2 672.4,871.2 680.9,890.7 689.3,894.8 697.4,894.8 706.0,891.7 714.3,881.7 723.0,879.9 731.3,908.7 739.5,907.9 747.9,918.4 756.0,918.4 764.6,914.9 772.9,905.6 781.6,913.8 789.9,908.7 798.1,921.0 806.8,929.2 815.0,929.2 823.5,929.2 832.0,926.8 840.2,925.2 848.5,926.1 856.7,922.1 865.1,931.1 873.6,931.1 882.1,931.1 890.3,929.4 898.5,917.2 907.0,906.4 915.4,893.3 923.9,909.5 932.4,909.5 940.6,907.9 948.9,897.9 957.1,877.9 965.6,884.0 974.0,895.3 982.5,897.1 991.0,897.1 999.5,893.8 1007.5,873.7 1016.1,866.3 1024.5,856.3 1033.1,854.0 1041.4,871.7 1049.6,871.7 1057.8,868.2 1066.1,863.2 1074.7,865.1 1083.1,866.0 1091.7,867.8 1100.0,868.6 1108.2,868.6 1116.4,863.2 1124.7,875.9 1133.3,868.6 1141.7,864.0 1150.0,874.8 1158.5,862.0 1167.0,862.0 1175.5,858.9 1183.5,852.1 1192.1,860.1 1200.4,854.7 1209.1,845.5 1217.1,870.2 1225.6,870.2 1234.1,867.1 1242.5,866.3 1250.7,847.0 1259.0,860.9 1267.2,874.3 1275.7,884.0 1284.2,884.0 1292.7,878.6 1300.7,871.7 1309.3,872.8 1317.6,865.5 1326.3,869.4 1334.3,882.0 1342.8,882.0 1350.9,879.4 1359.3,862.5 1367.9,868.6 1376.2,839.8 1384.9,850.9 1393.2,873.2 1401.6,873.2 1409.7,870.6 1418.1,855.2 1426.7,856.7 1434.7,883.3 1443.2,899.5 1451.7,907.2 1460.2,907.2 1468.6,903.3 1477.1,894.8 1485.6,889.7 1493.6,891.7 1501.8,881.0 1510.3,875.3 1518.8,875.3 1526.9,871.7 1535.3,861.4 1543.9,859.4 1551.9,881.0 1560.4,878.3 1568.9,858.3 1577.4,858.3 1585.8,853.7 1594.3,858.3 1602.8,862.5 1610.8,853.2 1619.0,864.5 1627.5,869.7 1636.0,869.4 1644.5,869.4" fill="none" stroke="#1a9ee2" stroke-width="3" stroke-linejoin="miter"/>
<polyline points="144.3,946.5 152.3,946.5 161.6,952.4 169.3,953.0 177.8,940.3 186.0,937.5 194.7,943.1 202.9,956.5 210.9,956.5 219.9,964.2 228.2,964.2 236.4,955.7 244.9,948.3 253.3,950.3 261.8,955.7 270.3,955.7 278.8,961.1 286.5,960.4 295.0,955.0 303.1,941.6 311.5,962.2 320.1,955.7 328.4,955.7 336.6,953.4 345.1,953.4 353.6,950.8 362.4,932.6 371.3,940.6 379.0,938.0 387.5,919.0 395.9,916.9 404.2,916.9 412.8,914.4 421.6,914.4 429.3,939.6 437.8,946.5 446.3,949.3 454.5,957.3 462.8,957.3 471.0,957.3 479.7,953.0 487.9,927.2 496.4,918.7 504.9,932.3 513.1,927.2 521.8,927.2 530.0,924.6 538.3,910.3 546.5,913.8 555.0,918.7 563.5,914.1 572.0,911.8 580.4,911.8 588.9,911.8 596.6,907.6 605.1,903.0 613.6,913.8 622.1,916.0 629.8,907.9 639.0,907.9 647.7,907.9 655.4,917.2 663.9,931.1 672.4,930.3 680.9,922.1 689.3,930.8 697.4,930.8 706.0,927.7 714.3,924.9 723.0,927.7 731.3,911.3 739.5,907.2 747.9,909.8 756.0,909.8 764.6,906.1 772.9,904.9 781.6,891.3 789.9,900.2 798.1,888.7 806.8,896.4 815.0,896.4 823.5,896.4 832.0,895.3 840.2,890.7 848.5,889.4 856.7,892.8 865.1,903.0 873.6,903.0 882.1,903.0 890.3,901.0 899.3,907.9 907.0,920.3 915.4,924.9 923.9,931.4 932.4,931.4 940.6,928.0 948.9,921.0 957.5,931.4 965.6,926.8 974.0,928.8 982.5,932.9 991.0,932.9 999.5,931.1 1008.0,933.8 1016.1,938.5 1024.5,941.1 1033.1,939.1 1041.4,941.6 1049.6,941.6 1057.8,939.6 1066.1,931.4 1074.7,934.9 1083.1,939.6 1091.7,938.5 1100.0,941.6 1108.2,941.6 1116.4,940.0 1124.7,927.2 1133.3,934.9 1141.7,941.1 1150.0,932.3 1158.5,958.8 1167.0,958.8 1175.2,955.0 1183.5,947.3 1192.1,936.5 1200.4,934.2 1209.1,943.7 1217.4,938.8 1225.6,938.8 1234.1,937.2 1242.5,929.8 1250.7,952.7 1259.0,932.9 1267.2,921.0 1275.7,929.2 1284.2,929.2 1292.7,926.4 1301.1,920.6 1309.3,924.6 1317.6,929.5 1326.3,934.2 1334.3,934.2 1342.8,934.2 1350.9,932.3 1359.3,932.9 1367.9,931.1 1376.2,948.3 1384.9,945.3 1393.5,939.6 1401.6,939.6 1409.7,938.0 1418.1,939.1 1426.7,940.6 1435.0,915.3 1443.2,902.5 1451.7,913.8 1460.2,913.8 1468.6,909.8 1477.1,910.3 1485.6,916.0 1494.1,913.8 1502.3,929.2 1510.3,943.1 1518.8,943.1 1526.9,940.6 1535.3,936.9 1543.9,946.5 1552.2,939.6 1560.9,946.2 1569.2,959.1 1577.4,959.1 1585.8,958.1 1593.9,948.3 1602.5,944.6 1610.8,948.3 1619.5,948.8 1627.8,949.9 1636.0,948.8 1644.5,948.8" fill="none" stroke="#d0011b" stroke-width="3" stroke-linejoin="miter"/>
<line x1="1654" y1="807" x2="1654" y2="977" stroke="#8a8a8a" stroke-width="2"/>
<line x1="1654" y1="807" x2="1665" y2="807" stroke="#8a8a8a" stroke-width="2"/>
<line x1="1654" y1="977" x2="1665" y2="977" stroke="#8a8a8a" stroke-width="2"/>
<line x1="1654" y1="837.5" x2="1665" y2="837.5" stroke="#8a8a8a" stroke-width="2"/>
<text x="1672" y="845.9" font-family='"Liberation Sans", sans-serif' font-size="25" fill="#1f2b3b" textLength="45.8" lengthAdjust="spacingAndGlyphs">2000</text>
<line x1="1654" y1="876.2" x2="1665" y2="876.2" stroke="#8a8a8a" stroke-width="2"/>
<text x="1672" y="884.6" font-family='"Liberation Sans", sans-serif' font-size="25" fill="#1f2b3b" textLength="45.8" lengthAdjust="spacingAndGlyphs">1500</text>
<line x1="1654" y1="914.9" x2="1665" y2="914.9" stroke="#8a8a8a" stroke-width="2"/>
<text x="1672" y="923.3" font-family='"Liberation Sans", sans-serif' font-size="25" fill="#1f2b3b" textLength="45.8" lengthAdjust="spacingAndGlyphs">1000</text>
<line x1="1654" y1="953.6" x2="1665" y2="953.6" stroke="#8a8a8a" stroke-width="2"/>
<text x="1672" y="962.0" font-family='"Liberation Sans", sans-serif' font-size="25" fill="#1f2b3b" textLength="34.4" lengthAdjust="spacingAndGlyphs">500</text>
<line x1="372" y1="975" x2="372" y2="988" stroke="#8a8a8a" stroke-width="2"/>
<text transform="translate(379.7,1115.2) rotate(-90)" font-family='"Liberation Sans", sans-serif' font-size="25" fill="#1f2b3b" textLength="116" lengthAdjust="spacingAndGlyphs">2023-Nov-01</text>
<line x1="623" y1="975" x2="623" y2="988" stroke="#8a8a8a" stroke-width="2"/>
<text transform="translate(630.7,1117.2) rotate(-90)" font-family='"Liberation Sans", sans-serif' font-size="25" fill="#1f2b3b" textLength="118" lengthAdjust="spacingAndGlyphs">2023-Dec-01</text>
<line x1="883" y1="975" x2="883" y2="988" stroke="#8a8a8a" stroke-width="2"/>
<text transform="translate(890.7,1115.6000000000001) rotate(-90)" font-family='"Liberation Sans", sans-serif' font-size="25" fill="#1f2b3b" textLength="116.4" lengthAdjust="spacingAndGlyphs">2024-Jan-01</text>
<line x1="1143" y1="975" x2="1143" y2="988" stroke="#8a8a8a" stroke-width="2"/>
<text transform="translate(1150.7,1115.6000000000001) rotate(-90)" font-family='"Liberation Sans", sans-serif' font-size="25" fill="#1f2b3b" textLength="116.4" lengthAdjust="spacingAndGlyphs">2024-Feb-01</text>
<line x1="1386" y1="975" x2="1386" y2="988" stroke="#8a8a8a" stroke-width="2"/>
<text transform="translate(1393.7,1116.5) rotate(-90)" font-family='"Liberation Sans", sans-serif' font-size="25" fill="#1f2b3b" textLength="117.3" lengthAdjust="spacingAndGlyphs">2024-Mar-01</text>
<line x1="1645" y1="975" x2="1645" y2="988" stroke="#8a8a8a" stroke-width="2"/>
<text transform="translate(1652.7,1112.2) rotate(-90)" font-family='"Liberation Sans", sans-serif' font-size="25" fill="#1f2b3b" textLength="113" lengthAdjust="spacingAndGlyphs">2024-Apr-01</text>
<g fill="#4a5466">
  <!-- D -->
  <path d="M1523.3 57 H1535 A14 14.35 0 0 1 1549 71.35 A14 14.35 0 0 1 1535 85.7 H1523.3 Z M1529 62.7 V80 H1535 A8 8.65 0 0 0 1543 71.35 A8 8.65 0 0 0 1535 62.7 Z" fill-rule="evenodd"/>
  <!-- A -->
  <path d="M1557 85.7 V69 A12 12.3 0 0 1 1581 69 V85.7 H1574.3 V79 H1562.9 V85.7 Z M1562.9 73.3 H1574.3 V67.4 A5.7 5.7 0 0 0 1562.9 67.4 Z" fill-rule="evenodd"/>
  <!-- I candle -->
  <rect x="1591" y="57" width="7" height="28.7"/>
  <rect x="1593.3" y="51" width="2.6" height="40.7"/>
  <!-- L -->
  <path d="M1608.1 57 H1614.8 V80 H1626.9 V85.7 H1608.1 Z"/>
  <!-- Y -->
  <path d="M1631.3 57 H1637.7 V67.5 A5.3 6.5 0 0 0 1648.3 67.5 V57 H1654.7 V67 A11.7 11.3 0 0 1 1646 78.1 V85.7 H1639.8 V78.1 A11.7 11.3 0 0 1 1631.3 67 Z"/>
</g>
<g fill="#ff7300">
  <!-- F -->
  <path d="M1664.7 57 H1690 V64.3 H1672.7 V68 H1690 V76.3 H1672.7 V85.7 H1664.7 Z"/>
  <!-- X -->
  <path d="M1696 57 H1706 L1711.7 64.8 L1717.3 57 H1727 L1716.7 71 L1728 85.7 H1718.3 L1711.7 77 L1704.7 85.7 H1695 L1706.5 71 Z"/>
</g>
<text x="1590.2" y="112.9" font-family="'Liberation Sans', sans-serif" font-size="18.5" fill="#4a5466" textLength="102.2" lengthAdjust="spacingAndGlyphs">provided by</text>
<g fill="#e31b23">
  <rect x="1703.1" y="96" width="3.7" height="21.2"/>
  <path d="M1724.5 100.2 A7.75 9.2 0 1 0 1726.75 106.7 H1719" fill="none" stroke="#e31b23" stroke-width="3.8"/>
</g>

<g>
  <rect x="1618" y="1113" width="45" height="10" fill="#ffffff"/>
  <filter id="wmblur" x="-5%" y="-5%" width="110%" height="110%"><feGaussianBlur stdDeviation="0.45"/></filter>
  <g fill="none" stroke="#7d8187" stroke-width="1.8" stroke-linecap="round" stroke-linejoin="round" opacity="0.8" filter="url(#wmblur)">
    <!-- 海 -->
    <polyline points="1553,1161.4 1561,1161 1564.4,1155.6 1571,1141"/>
    <polyline points="1563,1141.2 1571,1141.2"/>
    <polyline points="1569.5,1123.1 1576.7,1123.1"/>
    <polyline points="1575.6,1109.5 1576.2,1115"/>
    <polyline points="1587.5,1117 1617.1,1117 1618,1111"/>
    <polyline points="1613.5,1121.7 1604.9,1158 1599.1,1161.4"/>
    <polyline points="1571,1161.4 1600.5,1161.4"/>
    <polyline points="1586,1126.7 1602.7,1126.7"/>
    <polyline points="1581.8,1143.3 1598.4,1143.3"/>
    <polyline points="1584,1127 1582.5,1135"/>
    <polyline points="1579.5,1144 1578.5,1153"/>
    <polyline points="1597,1129 1600,1136"/>
    <polyline points="1592,1146 1595,1153"/>
    <!-- 马 -->
    <polyline points="1626.5,1115.5 1664.8,1115.5"/>
    <polyline points="1633,1118.8 1630.5,1128.9"/>
    <polyline points="1621.5,1137.5 1660.5,1137.5"/>
    <polyline points="1616.4,1151.6 1655.5,1151.6 1657,1146.5"/>
    <polyline points="1676.4,1109.4 1664.8,1159 1660,1162 1641.7,1162.1"/>
    <!-- 财 -->
    <polyline points="1689.5,1117.3 1700.3,1117.3"/>
    <polyline points="1689.5,1117.5 1682.3,1146.2 1675,1148"/>
    <polyline points="1700,1118 1692.4,1147.7 1700,1148.5"/>
    <polyline points="1685,1152 1679,1161"/>
    <polyline points="1694,1150 1696,1158 1693.5,1161"/>
    <polyline points="1711.2,1109.4 1701,1147"/>
    <polyline points="1710.4,1121 1724.9,1121"/>
    <polyline points="1737.9,1110.8 1735.5,1121.5 1732.5,1122 1724.9,1157.8 1713,1160.5"/>
    <polyline points="1724.2,1124 1708.3,1157.8"/>
    <!-- 经 -->
    <polyline points="1763.1,1109.4 1750.1,1123.1"/>
    <polyline points="1764.6,1121.7 1748.7,1139.7"/>
    <polyline points="1742,1131.5 1745.5,1131.5"/>
    <polyline points="1736.4,1148.4 1756.6,1148.4"/>
    <polyline points="1734.3,1161.4 1785.5,1160.6 1786.5,1156"/>
    <polyline points="1768.9,1115.5 1783.4,1115.5"/>
    <polyline points="1797,1109.4 1786.2,1124.5"/>
    <polyline points="1763.9,1135.4 1778,1132 1782,1135.4 1791.3,1135.4"/>
    <polyline points="1758.8,1144 1789.1,1144"/>
    <polyline points="1777,1145 1776,1153"/>
  </g>
  <g font-family="'Liberation Sans', sans-serif" font-weight="bold" font-style="italic" font-size="32">
    <g fill="#5d8fb0" stroke="#5d8fb0" stroke-width="0.9" transform="translate(1.2,1.2)"><text transform="translate(1566.44,1194.3) scale(1.141,1)">z</text><text transform="translate(1593.14,1194.3) scale(1.135,1)">z</text><text transform="translate(1620.70,1194.3) scale(1.143,1)">r</text><text transform="translate(1645.30,1194.3) scale(1.117,1)">t</text><text transform="translate(1664.70,1194.3) scale(1.144,1)">0</text><text transform="translate(1698.70,1194.3) scale(0.778,1)">1</text><text transform="translate(1722.70,1194.3) scale(0.956,1)">.</text><text transform="translate(1742.70,1194.3) scale(0.961,1)">c</text><text transform="translate(1766.70,1194.3) scale(1.100,1)">n</text></g>
    <g fill="#80bee8" stroke="#80bee8" stroke-width="0.9"><text transform="translate(1566.44,1194.3) scale(1.141,1)">z</text><text transform="translate(1593.14,1194.3) scale(1.135,1)">z</text><text transform="translate(1620.70,1194.3) scale(1.143,1)">r</text><text transform="translate(1645.30,1194.3) scale(1.117,1)">t</text><text transform="translate(1664.70,1194.3) scale(1.144,1)">0</text><text transform="translate(1698.70,1194.3) scale(0.778,1)">1</text><text transform="translate(1722.70,1194.3) scale(0.956,1)">.</text><text transform="translate(1742.70,1194.3) scale(0.961,1)">c</text><text transform="translate(1766.70,1194.3) scale(1.100,1)">n</text></g>
  </g>
</g>

</svg>
</body></html>
